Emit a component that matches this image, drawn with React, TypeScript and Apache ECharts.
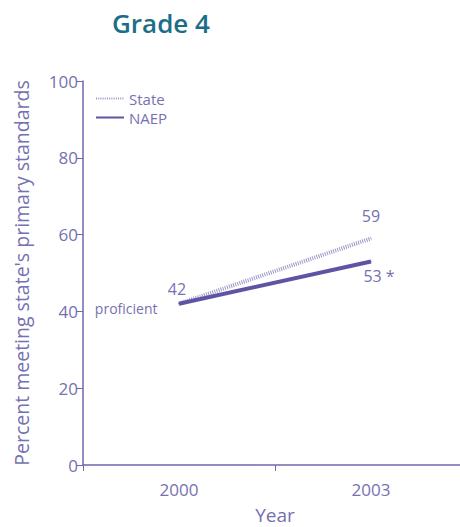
import React, { useEffect, useRef } from "react";
import * as echarts from "echarts";

const years = ["2000", "2003"];
const stateValues = [42, 59];
const naepValues = [42, 53];
const yTicks = [0, 20, 40, 60, 80, 100];

const AXIS = "#6e68ac";
const TEXT = "#7571b2";
const NAEP_C = "#5d55a4";
const STATE_C = "#9a96c8";
const FONT = "'Open Sans', 'Noto Sans', sans-serif";

export default function App() {
  const ref = useRef<HTMLDivElement>(null);
  useEffect(() => {
    document.body.style.margin = "0";
    const chart = echarts.init(ref.current!, null, { renderer: "svg" });
    chart.setOption({
      animation: false,
      textStyle: { fontFamily: FONT },
      title: {
        text: "Grade 4",
        left: 107,
        top: 5,
        textStyle: { color: "#1c6e86", fontSize: 26, fontWeight: 600, fontFamily: FONT },
      },
      legend: {
        left: 90,
        top: 86,
        orient: "vertical",
        itemGap: 4,
        itemWidth: 28,
        itemHeight: 14,
        itemStyle: { opacity: 0 },
        textStyle: { color: TEXT, fontSize: 15, fontFamily: FONT },
        data: ["State", "NAEP"],
      },
      grid: {
        left: 83,
        right: -7,
        top: 81,
        bottom: 62,
        containLabel: false,
        outerBoundsMode: "none",
      },
      xAxis: {
        type: "category",
        data: years,
        boundaryGap: true,
        axisLine: { lineStyle: { color: AXIS, width: 1.5 } },
        axisTick: { show: true, length: 6, lineStyle: { color: AXIS } },
        axisLabel: { color: TEXT, fontSize: 17, margin: 16, fontFamily: FONT },
        name: "Year",
        nameLocation: "middle",
        nameGap: 40,
        nameTextStyle: { color: TEXT, fontSize: 19, fontFamily: FONT },
      },
      yAxis: {
        type: "value",
        min: yTicks[0],
        max: yTicks[yTicks.length - 1],
        interval: 20,
        splitLine: { show: false },
        axisLine: { show: true, lineStyle: { color: AXIS, width: 1.5 } },
        axisTick: { show: true, length: 7, lineStyle: { color: AXIS } },
        axisLabel: { color: TEXT, fontSize: 17, margin: 5, fontFamily: FONT },
        name: "Percent meeting state's primary standards",
        nameLocation: "middle",
        nameGap: 52,
        nameTextStyle: { color: TEXT, fontSize: 19.5, fontFamily: FONT },
      },
      series: [
        {
          name: "State",
          type: "line",
          data: stateValues,
          symbol: "circle",
          symbolSize: 1,
          showSymbol: true,
          lineStyle: { color: STATE_C, width: 4, type: [1, 1.2] },
          itemStyle: { color: STATE_C },
          label: {
            show: true,
            position: "top",
            distance: 14,
            color: TEXT,
            fontSize: 16,
            fontFamily: FONT,
            formatter: (p: any) => (p.dataIndex === 1 ? String(p.value) : ""),
          },
        },
        {
          name: "NAEP",
          type: "line",
          data: naepValues,
          symbol: "circle",
          symbolSize: 1,
          showSymbol: true,
          lineStyle: { color: NAEP_C, width: 4 },
          itemStyle: { color: NAEP_C },
          label: {
            show: true,
            color: TEXT,
            fontSize: 16,
            fontFamily: FONT,
            formatter: (p: any) => (p.dataIndex === 1 ? p.value + " *" : String(p.value)),
            position: "top",
            distance: 6,
          },
          labelLayout: (params: any) =>
            params.dataIndex === 1 ? { dy: 29, dx: 8 } : { dx: -2 },
          markPoint: {
            symbol: "circle",
            symbolSize: 1,
            itemStyle: { color: NAEP_C },
            data: [
              {
                coord: [0, naepValues[0]],
                label: {
                  show: true,
                  formatter: "proficient",
                  color: TEXT,
                  fontSize: 14,
                  fontFamily: FONT,
                  position: "left",
                  distance: 0,
                  offset: [-21, 5],
                },
              },
            ],
          },
        },
      ],
    });
    return () => chart.dispose();
  }, []);
  return <div ref={ref} style={{ width: 460, height: 527 }} />;
}
